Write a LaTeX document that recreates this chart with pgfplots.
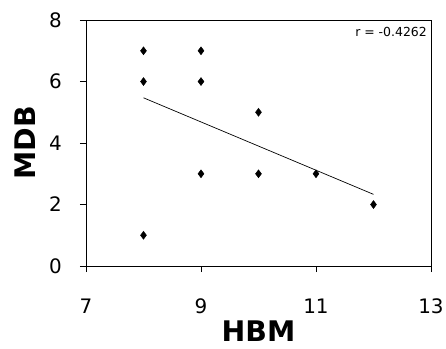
\documentclass[border=0pt]{standalone}
\usepackage{pgfplots}
\pgfplotsset{compat=1.18}
\usepackage{fontspec}
\setmainfont{DejaVu Sans}
\begin{document}
\begin{tikzpicture}
\begin{axis}[
  scale only axis, width=345bp, height=246bp,
  xmin=7, xmax=13, ymin=0, ymax=8,
  xtick={7,9,11,13}, ytick={0,2,4,6,8},
  tick align=outside, major tick length=6bp,
  xtick pos=bottom, ytick pos=left,
  tick style={black, line width=0.8bp},
  axis line style={line width=0.8bp},
  ticklabel style={font=\fontsize{20}{20}\selectfont, inner sep=0pt},
  /pgf/number format/assume math mode=true,
  xticklabel style={anchor=base, yshift=-41bp},
  yticklabel style={anchor=east, xshift=-18bp},
  xlabel={HBM}, ylabel={MDB},
  label style={font=\fontsize{28.5}{28.5}\selectfont\bfseries},
  xlabel style={at={(axis description cs:0.5,-0.307)}, anchor=base, inner sep=0pt},
  ylabel style={at={(axis description cs:-0.1768,0.5)}, anchor=center, inner sep=0pt},
]
\addplot[only marks, mark=diamond*, mark size=4bp, black] coordinates {
  (8,7) (8,6) (8,1) (9,7) (9,6) (9,3) (10,5) (10,3) (11,3) (12,2)
};
\addplot[black, line width=0.7bp, no marks] coordinates {(8,5.47) (12,2.33)};
\node[anchor=north east, inner sep=0pt, font=\fontsize{12.5}{12.5}\selectfont] at (rel axis cs:1,1) [xshift=-4bp, yshift=-7bp] {r = -0.4262};
\end{axis}
\pgfresetboundingbox
\path (-86bp,-83bp) rectangle (360bp,266bp);
\end{tikzpicture}
\end{document}
